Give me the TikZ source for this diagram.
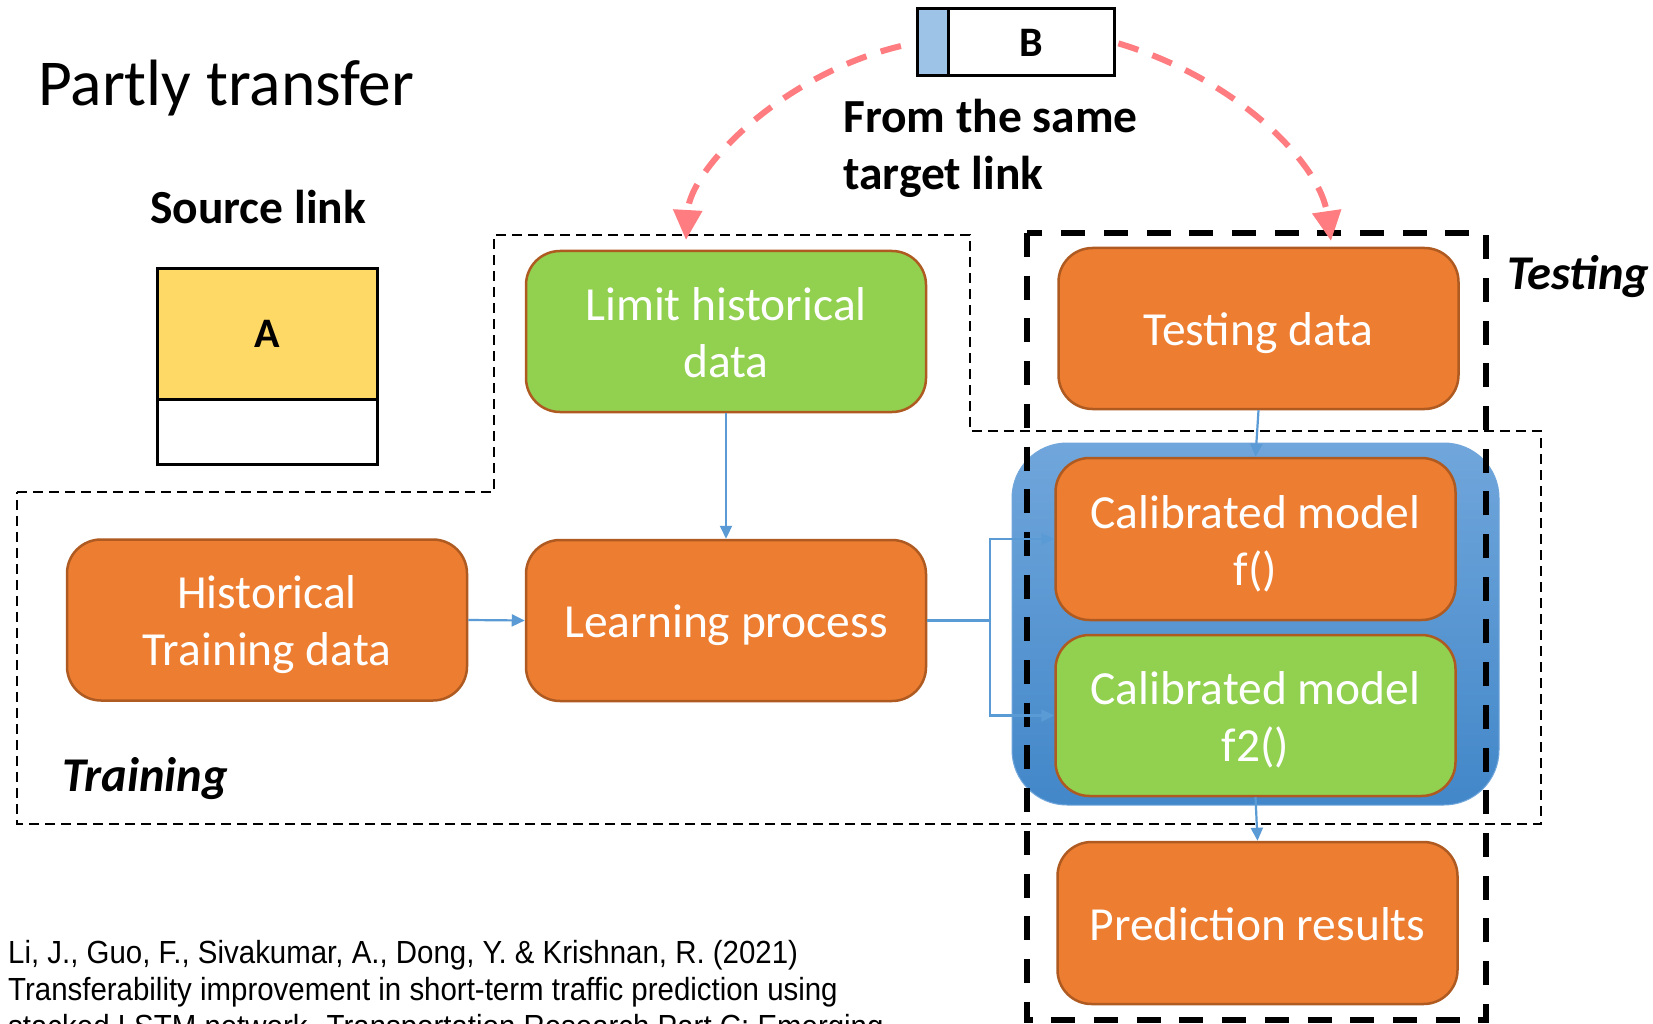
\documentclass[tikz,border=0pt]{standalone}
\usepackage{fontspec}
\setmainfont{Carlito}
\newfontfamily\citefont{Liberation Sans}[FakeStretch=0.92]
\usetikzlibrary{arrows.meta}

\definecolor{boxorange}{RGB}{237,125,49}
\definecolor{boxgreen}{RGB}{146,208,80}
\definecolor{boxedge}{RGB}{174,90,33}
\definecolor{flowblue}{RGB}{91,155,213}
\definecolor{transferred}{RGB}{255,124,128}
\definecolor{cellyellow}{RGB}{255,217,102}
\definecolor{celllightblue}{RGB}{157,195,230}
\definecolor{ensembletop}{RGB}{112,166,219}
\definecolor{ensemblebottom}{RGB}{66,135,201}

% fixed line extents so every stage label sits at the same height in its box
\newcommand\stagestrut{\rule[-8pt]{0pt}{51pt}}

\tikzset{
  stagebox/.style={draw=boxedge, line width=2.5pt, rounded corners=34pt,
    minimum width=400pt, minimum height=161pt, inner sep=0pt,
    text=white, align=center, font=\fontsize{47.5}{57}\selectfont},
  orangebox/.style={stagebox, fill=boxorange},
  greenbox/.style={stagebox, fill=boxgreen},
  linkcell/.style={draw=black, line width=3pt, inner sep=0pt,
    font=\bfseries\fontsize{42}{50}\selectfont},
  heading/.style={inner sep=0pt, anchor=base west, font=\bfseries\fontsize{47.5}{57}\selectfont},
  regionlabel/.style={inner sep=0pt, anchor=base west, font=\bfseries\itshape\fontsize{48.5}{55}\selectfont},
  citeline/.style={inner sep=0pt, anchor=base west, font=\citefont\fontsize{32}{37}\selectfont},
  flow/.style={draw=flowblue, line width=2.2pt, -{Triangle[length=13pt,width=12pt]}},
  transfer/.style={draw=transferred, line width=6pt, dash pattern=on 21pt off 15pt,
    -{Triangle[length=30pt,width=28pt]}},
  trainregion/.style={draw=black, line width=2pt, dash pattern=on 10pt off 6pt},
  testregion/.style={draw=black, line width=6pt, dash pattern=on 24pt off 18.7pt},
}

\begin{document}
\begin{tikzpicture}[x=1pt,y=-1pt]
\useasboundingbox (0,0) rectangle (1653,1024);
\clip (0,0) rectangle (1653,1024);
\fill[white] (0,0) rectangle (1653,1024);

% title
\node[inner sep=0pt, anchor=base west, font=\fontsize{65.5}{70}\selectfont] (title) at (38,106) {Partly transfer};

% source link
\node[heading] (srclabel) at (150,224) {Source link};
\node[linkcell, fill=cellyellow, minimum width=220pt, minimum height=131pt] (aTop) at (267,333.5) {A};
\node[linkcell, fill=white, minimum width=220pt, minimum height=65pt] (aBot) at (267,431.5) {};

% target link
\node[linkcell, fill=celllightblue, minimum width=31pt, minimum height=67pt] (bBlue) at (932.5,42.5) {};
\node[linkcell, fill=white, minimum width=166pt, minimum height=67pt] (bCell) at (1031,42.5) {B};
\node[heading] (from1) at (843,133) {From the same};
\node[heading] (from2) at (843,190) {target link};

% training region
\draw[trainregion] (17,492) -- (494,492) -- (494,235) -- (970,235) -- (970,431)
  -- (1541,431) -- (1541,824) -- (17,824) -- cycle;

% calibrated model container
\node[rounded corners=55pt, minimum width=487pt, minimum height=362pt, inner sep=0pt,
  top color=ensembletop, bottom color=ensemblebottom, draw=ensembletop, line width=1pt] (ensemble) at (1255.5,624) {};

% testing region
\draw[testregion] (1027,233) rectangle (1486,1020);

\node[regionlabel] (testlabel) at (1507,289) {Testing};
\node[regionlabel] (trainlabel) at (62,791) {Training};

% stages
\node[greenbox] (limit) at (726,331.5) {\stagestrut Limit historical\\\stagestrut data};
\node[orangebox] (hist) at (267,620) {\stagestrut Historical\\\stagestrut Training data};
\node[orangebox] (learn) at (726,620.5) {\stagestrut Learning process};
\node[orangebox] (test) at (1258.5,328.5) {\stagestrut Testing data};
\node[orangebox, minimum height=162pt] (fmod) at (1255.5,539) {\stagestrut Calibrated model\\\stagestrut f()};
\node[greenbox] (f2mod) at (1255.5,715.5) {\stagestrut Calibrated model\\\stagestrut f2()};
\node[orangebox, minimum height=162pt] (pred) at (1257.5,923) {\stagestrut Prediction results};

% flows
\coordinate (split) at (990,620.5);
\draw[flow] (limit.south) -- (learn.north);
\draw[flow] (hist.east) -- (learn.west);
\draw[flow] (learn.east) -- (split) |- (fmod.west);
\draw[flow] (split) |- (f2mod.west);
\draw[flow] (test.south) -- (fmod.north);
\draw[flow] (f2mod.south) -- (pred.north);

% data taken from the target link
\coordinate (lTip) at (686,240);
\coordinate (rTip) at (1331,241);
\draw[transfer, shorten <=15pt] (bBlue.west) .. controls (780,75) and (690,170) .. (lTip);
\draw[transfer, shorten <=3pt] (bCell.east) .. controls (1240,80) and (1320,165) .. (rTip);

% reference
\node[citeline] (cite1) at (8,963) {Li, J., Guo, F., Sivakumar, A., Dong, Y. \& Krishnan, R. (2021)};
\node[citeline] (cite2) at (8,1000) {Transferability improvement in short-term traffic prediction using};
\node[citeline] (cite3) at (8,1037) {stacked LSTM network. Transportation Research Part C: Emerging};
\end{tikzpicture}
\end{document}
